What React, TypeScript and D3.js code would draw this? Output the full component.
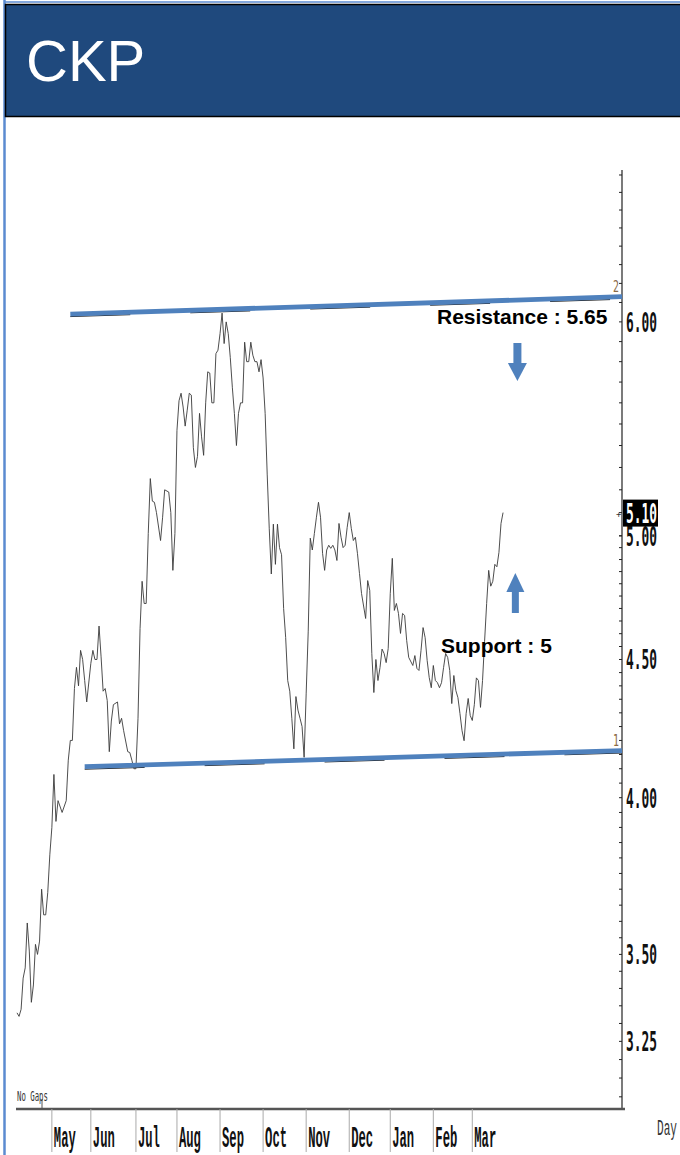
import React from 'react';
import * as d3 from 'd3';

const ticker = 'CKP';
const months = ['May', 'Jun', 'Jul', 'Aug', 'Sep', 'Oct', 'Nov', 'Dec', 'Jan', 'Feb', 'Mar'];
const monthStartDay = [17, 36, 58, 78, 99, 120, 141, 162, 182, 203, 222];
const priceLabels = [3.25, 3.5, 4.0, 4.5, 5.0, 6.0];
const lastPrice = 5.1;
const resistanceText = 'Resistance : 5.65';
const supportText = 'Support : 5';

// [trading day index, close]
const closes: [number, number][] = [
  [0, 3.33], [1, 3.32], [2, 3.34], [3, 3.43], [4, 3.46], [5, 3.595], [6, 3.51], [7, 3.36], [8, 3.41],
  [9, 3.53], [10, 3.5], [11, 3.54], [12, 3.7], [13, 3.62], [14, 3.62], [15, 3.69], [16, 3.81],
  [17, 3.9], [18, 4.08], [19, 3.92], [20, 3.99], [22, 3.95], [24, 3.99], [25, 4.13], [26, 4.2],
  [27, 4.2], [28, 4.39], [29, 4.47], [30, 4.4], [31, 4.535], [32, 4.5], [33, 4.42], [34, 4.34],
  [36, 4.485], [37, 4.535], [38, 4.5], [39, 4.5], [40, 4.63], [41, 4.51], [42, 4.38], [43, 4.39],
  [44, 4.345], [45, 4.16], [46, 4.27], [47, 4.33], [49, 4.34], [50, 4.26], [51, 4.28], [52, 4.235],
  [54, 4.16], [55, 4.157], [56, 4.13], [57, 4.1], [58, 4.1], [59, 4.28], [60, 4.62], [61, 4.81],
  [62, 4.72], [63, 4.72], [64, 5.01], [65, 5.25], [66, 5.15], [67, 5.145], [68, 5.1], [70, 4.98],
  [71, 5.08], [72, 5.2], [74, 5.19], [75, 5.1], [76, 4.855], [77, 5.01], [78, 5.47], [79, 5.61],
  [80, 5.646], [81, 5.58], [82, 5.49], [83, 5.565], [84, 5.646], [85, 5.637], [86, 5.39], [87, 5.3],
  [88, 5.35], [89, 5.55], [90, 5.44], [91, 5.355], [92, 5.6], [93, 5.75], [94, 5.744], [95, 5.6],
  [96, 5.6], [97, 5.84], [98, 5.857], [99, 5.94], [100, 6.045], [101, 5.89], [102, 6.0], [103, 5.94],
  [104, 5.82], [105, 5.675], [106, 5.55], [107, 5.4], [108, 5.55], [109, 5.6], [110, 5.6],
  [111, 5.897], [112, 5.8], [113, 5.8], [114, 5.897], [115, 5.832], [116, 5.8], [117, 5.8],
  [118, 5.75], [119, 5.81], [120, 5.72], [121, 5.55], [122, 5.27], [123, 5.03], [124, 4.84],
  [125, 5.05], [126, 4.88], [127, 5.05], [128, 4.95], [129, 4.92], [130, 4.7], [131, 4.585],
  [132, 4.42], [133, 4.38], [134, 4.28], [135, 4.17], [136, 4.36], [137, 4.31], [138, 4.28],
  [139, 4.25], [140, 4.14], [141, 4.37], [142, 4.61], [143, 4.99], [144, 4.94], [145, 5.01],
  [146, 5.08], [147, 5.145], [148, 5.08], [149, 4.926], [150, 4.855], [151, 4.94], [152, 4.96],
  [153, 4.947], [154, 4.96], [155, 4.94], [156, 4.896], [157, 5.053], [158, 4.994], [159, 4.95],
  [160, 4.96], [161, 5.036], [162, 5.1], [163, 5.032], [164, 4.98], [165, 4.994], [166, 4.926],
  [167, 4.842], [168, 4.76], [170, 4.66], [171, 4.813], [172, 4.773], [173, 4.523], [174, 4.375],
  [175, 4.5], [176, 4.42], [177, 4.469], [178, 4.54], [179, 4.523], [180, 4.488], [181, 4.542],
  [182, 4.76], [183, 4.905], [184, 4.692], [185, 4.72], [186, 4.68], [187, 4.601], [188, 4.68],
  [189, 4.672], [190, 4.574], [191, 4.508], [193, 4.477], [194, 4.515], [195, 4.466], [196, 4.458],
  [197, 4.535], [198, 4.624], [199, 4.585], [200, 4.496], [201, 4.431], [202, 4.393], [203, 4.477],
  [204, 4.42], [205, 4.412], [206, 4.393], [207, 4.412], [208, 4.469], [209, 4.523], [210, 4.508],
  [211, 4.458], [212, 4.334], [213, 4.439], [214, 4.382], [215, 4.356], [216, 4.297], [217, 4.235],
  [218, 4.199], [219, 4.297], [220, 4.353], [221, 4.29], [222, 4.272], [223, 4.33], [224, 4.43],
  [225, 4.42], [226, 4.32], [227, 4.42], [228, 4.57], [229, 4.72], [230, 4.855], [231, 4.79],
  [232, 4.81], [233, 4.88], [234, 4.87], [235, 4.93], [236, 5.053], [237, 5.1],
];

const resistanceLine: [number, number][] = [[26, 6.04], [295, 6.13]];
const supportLine: [number, number][] = [[33, 4.107], [295, 4.164]];

const W = 680;
const H = 1155;
const plotLeft = 17;
const plotRight = 622;
const plotTop = 170;
const plotBottom = 1109;

const monoFont = "'DejaVu Sans Mono', 'Liberation Mono', monospace";
const courierFont = "'Liberation Mono', 'DejaVu Sans Mono', monospace";

// condensed text: monospace glyph width 0.6em scaled horizontally to a target width
function CondText(props: {
  x: number; y: number; text: string; width: number; size: number; fill: string;
  font?: string; weight?: string | number;
}) {
  const { x, y, text, width, size, fill, font = monoFont, weight = 'normal' } = props;
  const natural = text.length * 0.602 * size;
  const sx = width / natural;
  return (
    <text
      transform={`translate(${x},${y}) scale(${sx},1)`}
      fontFamily={font}
      fontSize={size}
      fontWeight={weight}
      fill={fill}
    >
      {text}
    </text>
  );
}

export default function App() {
  const x = d3.scaleLinear().domain([0, 295]).range([plotLeft, plotRight]);
  const y = d3.scaleLog().domain([3.068, 6.829]).range([plotBottom, plotTop]);
  const line = d3.line<[number, number]>().x((d) => x(d[0])).y((d) => y(d[1]));

  const minorTicks = [
    ...d3.range(0, 39).map((i) => 3.1 + i * 0.05),
    ...d3.range(0, 19).map((i) => 5.0 + i * 0.1),
  ].filter((v) => y(v) >= plotTop && y(v) <= plotBottom);

  const blue = '#4F81BD';
  const downX = x(244);
  const upX = x(243);

  return (
    <svg width={W} height={H} style={{ position: 'absolute', left: 0, top: 0, background: '#fff' }}>
      <rect x={0} y={0} width={W} height={H} fill="#fff" />
      {/* left border */}
      <line x1={4.5} y1={0} x2={4.5} y2={H} stroke="#5B8BD0" strokeWidth={2.5} />
      {/* header */}
      <line x1={4} y1={2} x2={W} y2={2} stroke="#5B8BD0" strokeWidth={1.5} />
      <rect x={5.5} y={4.5} width={W} height={112} fill="#1F497D" stroke="#000" strokeWidth={1.5} />
      <text x={26} y={81} fill="#fff" fontFamily="'Liberation Sans', Arial, sans-serif" fontSize={58}>
        {ticker}
      </text>

      {/* right axis */}
      <line x1={plotRight} y1={plotTop} x2={plotRight} y2={plotBottom} stroke="#222" strokeWidth={1.2} />
      {minorTicks.map((v, i) => (
        <line key={i} x1={plotRight - 3} x2={plotRight} y1={y(v)} y2={y(v)} stroke="#222" strokeWidth={1} />
      ))}
      {priceLabels.map((v) => (
        <CondText key={v} x={plotRight + 4} y={y(v) + 10} text={v.toFixed(2)} width={31} size={27} fill="#111" weight="bold" />
      ))}
      {/* last price box */}
      <rect x={plotRight + 1} y={y(lastPrice) - 13} width={35} height={27} fill="#000" />
      <CondText x={plotRight + 4} y={y(lastPrice) + 10} text={lastPrice.toFixed(2)} width={31} size={27} fill="#fff" weight="bold" />
      <text x={plotRight - 6} y={y(lastPrice) + 4} fontSize={9} fill="#333" fontFamily={monoFont}>
        +
      </text>

      {/* bottom axis */}
      <line x1={plotLeft - 1} y1={plotBottom} x2={plotRight + 3} y2={plotBottom} stroke="#555" strokeWidth={2.5} />
      <line x1={42} y1={plotBottom - 10} x2={42} y2={plotBottom} stroke="#555" strokeWidth={1} />
      {monthStartDay.map((d, i) => (
        <g key={months[i]}>
          <line x1={x(d)} y1={plotBottom} x2={x(d)} y2={1152} stroke="#aaa" strokeWidth={1} />
          <CondText x={x(d) + 2} y={1147} text={months[i]} width={22} size={30} fill="#111" font={courierFont} weight="bold" />
        </g>
      ))}
      <CondText x={657} y={1135} text="Day" width={20} size={22} fill="#333" font={courierFont} />
      <CondText x={17} y={1101} text="No Gaps" width={31} size={14} fill="#333" font={monoFont} />

      {/* trendlines */}
      <path d={line(resistanceLine) || ''} fill="none" stroke="#222" strokeWidth={1} strokeDasharray="60 60" transform="translate(0,2.5)" />
      <path d={line(supportLine) || ''} fill="none" stroke="#222" strokeWidth={1} strokeDasharray="60 60" transform="translate(0,2.5)" />
      <CondText x={613} y={y(resistanceLine[1][1]) - 5} text="2" width={6} size={15} fill="#8B6B45" />
      <CondText x={613} y={y(supportLine[1][1]) - 5} text="1" width={6} size={15} fill="#8B6B45" />

      {/* price line */}
      <path d={line(closes) || ''} fill="none" stroke="#3a3a3a" strokeWidth={0.9} />

      <path d={line(resistanceLine) || ''} fill="none" stroke={blue} strokeWidth={4.8} />
      <path d={line(supportLine) || ''} fill="none" stroke={blue} strokeWidth={4.8} />

      {/* annotations */}
      <text x={437} y={324} fontFamily="'Liberation Sans', Arial, sans-serif" fontWeight="bold" fontSize={21} fill="#000">
        {resistanceText}
      </text>
      <text x={441} y={653} fontFamily="'Liberation Sans', Arial, sans-serif" fontWeight="bold" fontSize={21} fill="#000">
        {supportText}
      </text>
      {/* down arrow */}
      <rect x={downX - 4} y={343} width={8} height={21} fill={blue} />
      <polygon points={`${downX - 9.5},363 ${downX + 9.5},363 ${downX},381`} fill={blue} />
      {/* up arrow */}
      <rect x={upX - 3.5} y={591} width={7} height={22} fill={blue} />
      <polygon points={`${upX - 9},592 ${upX + 9},592 ${upX},573`} fill={blue} />
    </svg>
  );
}
